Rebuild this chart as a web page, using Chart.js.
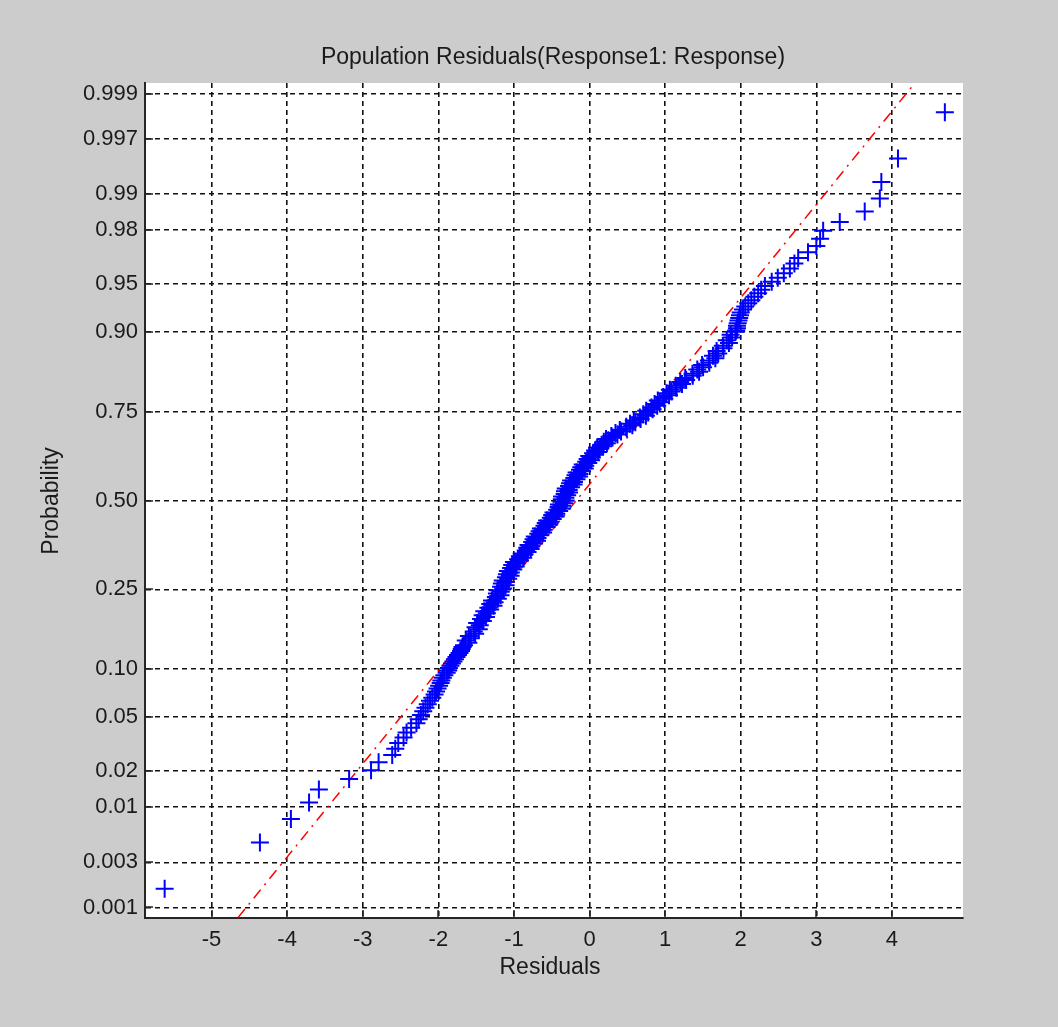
<!DOCTYPE html>
<html>
<head>
<meta charset="utf-8">
<script src="https://cdn.jsdelivr.net/npm/chart.js@4"></script>
<style>
  html, body { margin: 0; padding: 0; background: #cccccc; overflow: hidden; }
  canvas { display: block; }
</style>
</head>
<body>
<canvas id="normPlot" width="1058" height="1027"></canvas>
<script>
// residuals and their plotting probabilities
// lower tail
const tailLowResiduals = [
  -5.62, -4.36, -3.95, -3.71, -3.58, -3.18, -2.89, -2.79, -2.61, -2.57,
  -2.53, -2.46, -2.42, -2.36, -2.29, -2.26, -2.23, -2.20, -2.17, -2.14,
  -2.11, -2.08, -2.05, -2.03, -2.01, -1.99, -1.97, -1.96, -1.94, -1.92,
  -1.89, -1.87, -1.86, -1.84, -1.82, -1.80, -1.78, -1.76, -1.74, -1.72,
  -1.70, -1.69, -1.68, -1.66
];
const tailLowProbs = [
  0.0016, 0.0047, 0.0078, 0.0109, 0.0141, 0.0172, 0.0203, 0.0234, 0.0266, 0.0297,
  0.0328, 0.0359, 0.0391, 0.0422, 0.0453, 0.0484, 0.0516, 0.0547, 0.0578, 0.0609,
  0.0641, 0.0672, 0.0703, 0.0734, 0.0766, 0.0797, 0.0828, 0.0859, 0.0891, 0.0922,
  0.0953, 0.0984, 0.1016, 0.1047, 0.1078, 0.1109, 0.1141, 0.1172, 0.1203, 0.1234,
  0.1266, 0.1297, 0.1328, 0.1359
];

// dense middle band (ragged, as in the picture)
const midResiduals = [
  -1.603, -1.637, -1.570, -1.596, -1.513, -1.531, -1.465, -1.508, -1.452, -1.487,
  -1.411, -1.435, -1.370, -1.414, -1.358, -1.392, -1.315, -1.338, -1.270, -1.313,
  -1.256, -1.290, -1.213, -1.239, -1.177, -1.225, -1.174, -1.213, -1.142, -1.171,
  -1.110, -1.160, -1.109, -1.148, -1.077, -1.106, -1.044, -1.093, -1.041, -1.080,
  -1.009, -1.038, -0.977, -1.023, -0.967, -1.000, -0.922, -0.945, -0.878, -0.921,
  -0.864, -0.897, -0.820, -0.844, -0.779, -0.824, -0.770, -0.807, -0.733, -0.759,
  -0.695, -0.741, -0.688, -0.724, -0.651, -0.678, -0.614, -0.660, -0.606, -0.643,
  -0.570, -0.596, -0.533, -0.579, -0.525, -0.561, -0.487, -0.512, -0.448, -0.494,
  -0.440, -0.476, -0.402, -0.428, -0.363, -0.409, -0.362, -0.405, -0.338, -0.371,
  -0.315, -0.367, -0.320, -0.363, -0.296, -0.329, -0.272, -0.325, -0.276, -0.315,
  -0.244, -0.272, -0.211, -0.259, -0.206, -0.244, -0.172, -0.201, -0.139, -0.186,
  -0.133, -0.171, -0.099, -0.126, -0.063, -0.110, -0.056, -0.091, -0.017, -0.044,
  0.020, -0.025, 0.030, -0.004, 0.071, 0.046, 0.114, 0.073, 0.132, 0.101,
  0.180, 0.160, 0.229, 0.189, 0.249, 0.218, 0.304, 0.289, 0.369, 0.343,
  0.417, 0.400, 0.493, 0.485, 0.566, 0.536, 0.606, 0.585, 0.675, 0.666,
  0.746, 0.711, 0.776, 0.750, 0.834, 0.819, 0.895, 0.861, 0.927, 0.903,
  0.989, 0.975, 1.051, 1.018, 1.086, 1.063, 1.151, 1.140, 1.223, 1.200,
  1.278, 1.266, 1.365, 1.362, 1.449, 1.425, 1.502, 1.489, 1.584, 1.579,
  1.664, 1.633, 1.702, 1.681, 1.772, 1.763, 1.844, 1.815, 1.886, 1.866,
  1.930
];
const midProbs = [
  0.140, 0.144, 0.148, 0.152, 0.156, 0.160, 0.164, 0.168, 0.172, 0.176,
  0.180, 0.184, 0.188, 0.192, 0.196, 0.200, 0.204, 0.208, 0.212, 0.216,
  0.220, 0.224, 0.228, 0.232, 0.236, 0.240, 0.244, 0.248, 0.252, 0.256,
  0.260, 0.264, 0.268, 0.272, 0.276, 0.280, 0.284, 0.288, 0.292, 0.296,
  0.300, 0.304, 0.308, 0.312, 0.316, 0.320, 0.324, 0.328, 0.332, 0.336,
  0.340, 0.344, 0.348, 0.352, 0.356, 0.360, 0.364, 0.368, 0.372, 0.376,
  0.380, 0.384, 0.388, 0.392, 0.396, 0.400, 0.404, 0.408, 0.412, 0.416,
  0.420, 0.424, 0.428, 0.432, 0.436, 0.440, 0.444, 0.448, 0.452, 0.456,
  0.460, 0.464, 0.468, 0.472, 0.476, 0.480, 0.484, 0.488, 0.492, 0.496,
  0.500, 0.504, 0.508, 0.512, 0.516, 0.520, 0.524, 0.528, 0.532, 0.536,
  0.540, 0.544, 0.548, 0.552, 0.556, 0.560, 0.564, 0.568, 0.572, 0.576,
  0.580, 0.584, 0.588, 0.592, 0.596, 0.600, 0.604, 0.608, 0.612, 0.616,
  0.620, 0.624, 0.628, 0.632, 0.636, 0.640, 0.644, 0.648, 0.652, 0.656,
  0.660, 0.664, 0.668, 0.672, 0.676, 0.680, 0.684, 0.688, 0.692, 0.696,
  0.700, 0.704, 0.708, 0.712, 0.716, 0.720, 0.724, 0.728, 0.732, 0.736,
  0.740, 0.744, 0.748, 0.752, 0.756, 0.760, 0.764, 0.768, 0.772, 0.776,
  0.780, 0.784, 0.788, 0.792, 0.796, 0.800, 0.804, 0.808, 0.812, 0.816,
  0.820, 0.824, 0.828, 0.832, 0.836, 0.840, 0.844, 0.848, 0.852, 0.856,
  0.860, 0.864, 0.868, 0.872, 0.876, 0.880, 0.884, 0.888, 0.892, 0.896,
  0.900
];

// upper tail
const tailHighResiduals = [
  1.94, 1.95, 1.95, 1.96, 1.97, 1.98, 1.99, 2.00, 2.03, 2.06,
  2.10, 2.14, 2.18, 2.23, 2.27, 2.32, 2.41, 2.49, 2.57, 2.65,
  2.71, 2.76, 2.89, 3.00, 3.05, 3.09, 3.31, 3.64, 3.84, 3.86,
  4.08, 4.70
];
const tailHighProbs = [
  0.9016, 0.9047, 0.9078, 0.9109, 0.9141, 0.9172, 0.9203, 0.9234, 0.9266, 0.9297,
  0.9328, 0.9359, 0.9391, 0.9422, 0.9453, 0.9484, 0.9516, 0.9547, 0.9578, 0.9609,
  0.9641, 0.9672, 0.9703, 0.9734, 0.9766, 0.9797, 0.9828, 0.9859, 0.9891, 0.9922,
  0.9953, 0.9984
];

// fitted normal reference line (ends)
const refLineResiduals = [-4.65, 4.30];
const refLineProbs = [0.00077, 0.99923];

const probTicks = [0.001, 0.003, 0.01, 0.02, 0.05, 0.10, 0.25, 0.50, 0.75, 0.90, 0.95, 0.98, 0.99, 0.997, 0.999];
const probTickLabels = ['0.001', '0.003', '0.01', '0.02', '0.05', '0.10', '0.25', '0.50', '0.75', '0.90', '0.95', '0.98', '0.99', '0.997', '0.999'];
const residualTicks = [-5, -4, -3, -2, -1, 0, 1, 2, 3, 4];

const titleText = 'Population Residuals(Response1: Response)';
const xLabel = 'Residuals';
const yLabel = 'Probability';

// inverse normal cdf (Acklam) - the y axis is linear in z
function norminv(p) {
  const a = [-3.969683028665376e+01, 2.209460984245205e+02, -2.759285104469687e+02, 1.383577518672690e+02, -3.066479806614716e+01, 2.506628277459239e+00];
  const b = [-5.447609879822406e+01, 1.615858368580409e+02, -1.556989798598866e+02, 6.680131188771972e+01, -1.328068155288572e+01];
  const c = [-7.784894002430293e-03, -3.223964580411365e-01, -2.400758277161838e+00, -2.549732539343734e+00, 4.374664141464968e+00, 2.938163982698783e+00];
  const d = [7.784695709041462e-03, 3.224671290700398e-01, 2.445134137142996e+00, 3.754408661907416e+00];
  const pl = 0.02425;
  let q, r;
  if (p < pl) {
    q = Math.sqrt(-2 * Math.log(p));
    return (((((c[0]*q+c[1])*q+c[2])*q+c[3])*q+c[4])*q+c[5]) / ((((d[0]*q+d[1])*q+d[2])*q+d[3])*q+1);
  }
  if (p > 1 - pl) {
    q = Math.sqrt(-2 * Math.log(1 - p));
    return -(((((c[0]*q+c[1])*q+c[2])*q+c[3])*q+c[4])*q+c[5]) / ((((d[0]*q+d[1])*q+d[2])*q+d[3])*q+1);
  }
  q = p - 0.5;
  r = q * q;
  return (((((a[0]*r+a[1])*r+a[2])*r+a[3])*r+a[4])*r+a[5])*q / (((((b[0]*r+b[1])*r+b[2])*r+b[3])*r+b[4])*r+1);
}

const residuals = tailLowResiduals.concat(midResiduals, tailHighResiduals);
const probabilities = tailLowProbs.concat(midProbs, tailHighProbs);
const points = residuals.map((x, i) => ({ x: x, y: norminv(probabilities[i]) }));
const refLine = refLineResiduals.map((x, i) => ({ x: x, y: norminv(refLineProbs[i]) }));

const FONT = '"Liberation Sans", Arial, sans-serif';
const TEXT_COLOR = '#1a1a1a';

const figurePlugin = {
  id: 'figure',
  beforeDraw(chart) {
    const { ctx, chartArea } = chart;
    ctx.save();
    ctx.fillStyle = '#cccccc';
    ctx.fillRect(0, 0, chart.width, chart.height);
    ctx.fillStyle = '#ffffff';
    ctx.fillRect(chartArea.left, chartArea.top, chartArea.right - chartArea.left, chartArea.bottom - chartArea.top);
    ctx.restore();
  },
  afterDraw(chart) {
    const { ctx, chartArea, scales } = chart;
    ctx.save();
    // inward tick marks like the original axes
    ctx.strokeStyle = '#262626';
    ctx.lineWidth = 1.5;
    ctx.beginPath();
    residualTicks.forEach(t => {
      const px = Math.round(scales.x.getPixelForValue(t));
      ctx.moveTo(px, chartArea.bottom);
      ctx.lineTo(px, chartArea.bottom - 8);
    });
    probTicks.forEach(p => {
      const py = Math.round(scales.y.getPixelForValue(norminv(p)));
      ctx.moveTo(chartArea.left, py);
      ctx.lineTo(chartArea.left + 8, py);
    });
    ctx.stroke();

    ctx.fillStyle = TEXT_COLOR;
    ctx.font = '23px ' + FONT;
    ctx.textAlign = 'center';
    ctx.textBaseline = 'middle';
    ctx.fillText(titleText, 553, 58);
    ctx.fillText(xLabel, 550, 968);
    ctx.translate(52, 501);
    ctx.rotate(-Math.PI / 2);
    ctx.fillText(yLabel, 0, 0);
    ctx.restore();
  }
};

new Chart(document.getElementById('normPlot').getContext('2d'), {
  type: 'scatter',
  data: {
    datasets: [
      {
        label: 'Residuals',
        data: points,
        pointStyle: 'cross',
        pointRadius: 9,
        pointBorderWidth: 2,
        borderColor: '#0000ff',
        backgroundColor: '#0000ff',
        showLine: false
      },
      {
        label: 'Reference',
        data: refLine,
        showLine: true,
        borderColor: '#ff0000',
        borderWidth: 1.5,
        borderDash: [11, 6, 2, 6],
        pointRadius: 0
      }
    ]
  },
  options: {
    responsive: false,
    animation: false,
    layout: { padding: { left: 0, top: 83, right: 95, bottom: 0 } },
    plugins: {
      legend: { display: false },
      tooltip: { enabled: false },
      title: { display: false }
    },
    scales: {
      x: {
        type: 'linear',
        min: -5.88,
        max: 4.94,
        afterBuildTicks: scale => { scale.ticks = residualTicks.map(v => ({ value: v })); },
        afterFit: scale => { scale.height = 109; },
        grid: { color: '#111111', lineWidth: 1.6, drawTicks: false },
        border: { display: true, color: '#262626', width: 2, dash: [5, 4] },
        ticks: {
          autoSkip: false,
          maxRotation: 0,
          padding: 9,
          color: TEXT_COLOR,
          font: { family: FONT, size: 22 },
          callback: v => String(v)
        }
      },
      y: {
        type: 'linear',
        min: -3.17,
        max: 3.17,
        afterBuildTicks: scale => { scale.ticks = probTicks.map(p => ({ value: norminv(p) })); },
        afterFit: scale => { scale.width = 145; },
        grid: { color: '#111111', lineWidth: 1.6, drawTicks: false },
        border: { display: true, color: '#262626', width: 2, dash: [5, 4] },
        ticks: {
          autoSkip: false,
          padding: 7,
          color: TEXT_COLOR,
          font: { family: FONT, size: 22 },
          callback: (v, i) => probTickLabels[i]
        }
      }
    }
  },
  plugins: [figurePlugin]
});
</script>
</body>
</html>
